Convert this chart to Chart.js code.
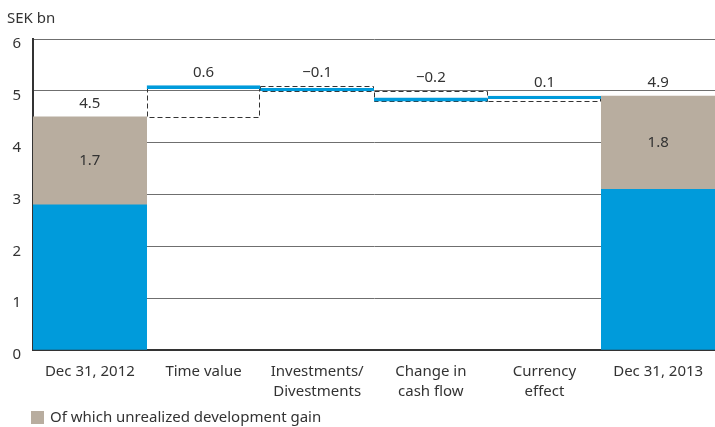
<!DOCTYPE html>
<html>
<head>
<meta charset="utf-8">
<script src="https://cdn.jsdelivr.net/npm/chart.js@4.4.1/dist/chart.umd.min.js"></script>
<style>
  html, body { margin: 0; padding: 0; background: #fff; }
  #wrap { width: 715px; height: 427px; }
</style>
</head>
<body>
<div id="wrap"><canvas id="myChart"></canvas></div>
<script>
var categories = ['Dec 31, 2012', 'Time value', ['Investments/', 'Divestments'], ['Change in', 'cash flow'], ['Currency', 'effect'], 'Dec 31, 2013'];
var totals = [4.5, 4.9];            // opening / closing value
var devGain = [1.7, 1.8];           // of which unrealized development gain
var changes = [0.6, -0.1, -0.2, 0.1];
var yTicks = [0, 1, 2, 3, 4, 5, 6];
var unit = 'SEK bn';
var legendText = 'Of which unrealized development gain';

var BLUE = '#009bdb';
var GREY = '#b8ad9f';
var TEXT = '#333333';
var FONT = '"Noto Sans", sans-serif';

var last = categories.length - 1;
var baseData = categories.map(function () { return null; });
var gainData = baseData.slice();
var stepData = baseData.slice();

baseData[0] = totals[0] - devGain[0];
baseData[last] = totals[1] - devGain[1];
gainData[0] = [baseData[0], totals[0]];
gainData[last] = [baseData[last], totals[1]];

var running = totals[0];
changes.forEach(function (c, i) {
  stepData[i + 1] = [running, running + c];
  running += c;
});

function fmt(v) {
  return (v < 0 ? '\u2212' : '') + Math.abs(v).toFixed(1);
}

// dashed outline round each step, under the blue edge
var stepBoxes = {
  id: 'stepBoxes',
  beforeDatasetsDraw: function (chart) {
    var ctx = chart.ctx;
    var meta = chart.getDatasetMeta(2);
    ctx.save();
    ctx.strokeStyle = TEXT;
    ctx.lineWidth = 1;
    ctx.setLineDash([5, 3]);
    meta.data.forEach(function (bar, i) {
      if (!stepData[i]) return;
      var p = bar.getProps(['x', 'y', 'base', 'width'], true);
      var l = Math.round(p.x - p.width / 2) + 0.5;
      var r = Math.round(p.x + p.width / 2) - 0.5;
      var t = Math.round(Math.min(p.y, p.base)) + 0.5;
      var b = Math.round(Math.max(p.y, p.base)) + 0.5;
      ctx.strokeRect(l, t, r - l, b - t);
    });
    ctx.restore();
  }
};

// value labels, unit and legend
var labels = {
  id: 'labels',
  afterDatasetsDraw: function (chart) {
    var ctx = chart.ctx;
    ctx.save();
    ctx.fillStyle = TEXT;
    ctx.font = '15px ' + FONT;
    ctx.textAlign = 'center';
    ctx.textBaseline = 'middle';

    var gainMeta = chart.getDatasetMeta(1);
    var stepMeta = chart.getDatasetMeta(2);
    [0, last].forEach(function (i, k) {
      var p = gainMeta.data[i].getProps(['x', 'y', 'base'], true);
      ctx.fillText(totals[k].toFixed(1), p.x, p.y - 13);
      ctx.fillText(devGain[k].toFixed(1), p.x, (p.y + p.base) / 2);
    });
    changes.forEach(function (c, k) {
      var p = stepMeta.data[k + 1].getProps(['x', 'y', 'base'], true);
      ctx.fillText(fmt(c), p.x, Math.min(p.y, p.base) - 13);
    });

    ctx.textAlign = 'left';
    ctx.textBaseline = 'alphabetic';
    ctx.fillText(unit, 7, 23);

    ctx.fillStyle = GREY;
    ctx.fillRect(31, 411, 13, 13);
    ctx.fillStyle = TEXT;
    ctx.textBaseline = 'middle';
    ctx.fillText(legendText, 50, 418);
    ctx.restore();
  }
};

var ctx = document.getElementById('myChart');

new Chart(ctx, {
  type: 'bar',
  data: {
    labels: categories,
    datasets: [
      { label: 'Value', data: baseData, backgroundColor: BLUE, grouped: false },
      { label: legendText, data: gainData, backgroundColor: GREY, grouped: false },
      {
        label: 'Change',
        data: stepData,
        backgroundColor: 'rgba(0,0,0,0)',
        borderColor: BLUE,
        borderSkipped: false,
        borderWidth: function (c) {
          var v = c.raw;
          if (!v) return 0;
          return v[1] > v[0]
            ? { top: 3, right: 0, bottom: 0, left: 0 }
            : { top: 0, right: 0, bottom: 3, left: 0 };
        },
        grouped: false
      }
    ]
  },
  options: {
    responsive: true,
    maintainAspectRatio: false,
    animation: false,
    datasets: { bar: { barPercentage: 1, categoryPercentage: 1 } },
    layout: { padding: { top: 39, bottom: 22, left: 0, right: 0 } },
    plugins: {
      legend: { display: false },
      tooltip: { enabled: false }
    },
    scales: {
      x: {
        grid: { display: false },
        border: { color: TEXT, width: 2 },
        ticks: {
          color: TEXT,
          padding: 4,
          autoSkip: false,
          maxRotation: 0,
          font: { family: FONT, size: 15, lineHeight: 1.3 }
        },
        afterFit: function (scale) { scale.height = 55; }
      },
      y: {
        min: 0,
        max: 6,
        afterBuildTicks: function (scale) {
          scale.ticks = yTicks.map(function (v) { return { value: v }; });
        },
        grid: { color: '#6f6f6f', lineWidth: 1, drawTicks: false },
        border: { color: TEXT, width: 2 },
        ticks: {
          color: TEXT,
          padding: 12,
          labelOffset: 5,
          font: { family: FONT, size: 15 }
        },
        afterFit: function (scale) { scale.width = 33; }
      }
    }
  },
  plugins: [stepBoxes, labels]
});
</script>
</body>
</html>
